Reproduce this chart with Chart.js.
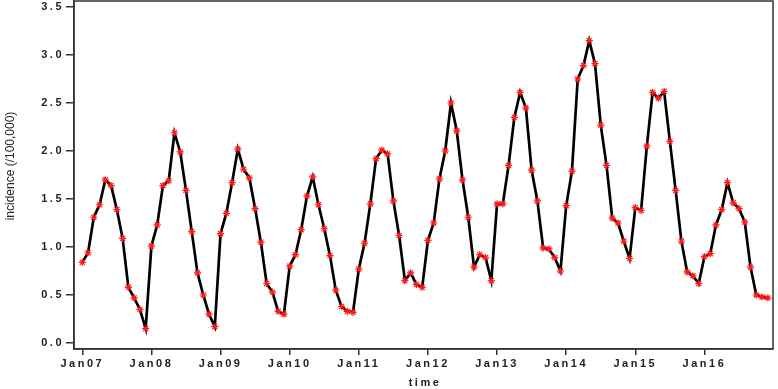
<!DOCTYPE html>
<html>
<head>
<meta charset="utf-8">
<script src="https://cdn.jsdelivr.net/npm/chart.js@4"></script>
<style>
  html, body { margin: 0; padding: 0; background: #fff; }
  #wrap { width: 778px; height: 389px; position: relative; }
</style>
</head>
<body>
<div id="wrap"><canvas id="c"></canvas></div>
<script>
const tickLabels = ['Jan07','Jan08','Jan09','Jan10','Jan11','Jan12','Jan13','Jan14','Jan15','Jan16'];
const yTickValues = [0, 0.5, 1.0, 1.5, 2.0, 2.5, 3.0, 3.5];
const y2007 = [0.84, 0.94, 1.31, 1.44, 1.70, 1.64, 1.39, 1.09, 0.58, 0.47, 0.35, 0.15];
const y2008 = [1.01, 1.23, 1.64, 1.69, 2.19, 1.99, 1.59, 1.16, 0.73, 0.50, 0.30, 0.17];
const y2009 = [1.14, 1.35, 1.67, 2.02, 1.81, 1.72, 1.40, 1.05, 0.62, 0.53, 0.33, 0.30];
const y2010 = [0.80, 0.92, 1.18, 1.53, 1.73, 1.44, 1.19, 0.91, 0.55, 0.38, 0.33, 0.32];
const y2011 = [0.77, 1.04, 1.45, 1.92, 2.01, 1.97, 1.48, 1.12, 0.65, 0.73, 0.61, 0.58];
const y2012 = [1.07, 1.25, 1.71, 2.00, 2.50, 2.21, 1.70, 1.31, 0.79, 0.92, 0.89, 0.65];
const y2013 = [1.45, 1.45, 1.85, 2.35, 2.61, 2.45, 1.80, 1.48, 0.99, 0.98, 0.89, 0.75];
const y2014 = [1.43, 1.79, 2.75, 2.89, 3.15, 2.91, 2.27, 1.85, 1.30, 1.25, 1.06, 0.88];
const y2015 = [1.41, 1.38, 2.05, 2.61, 2.55, 2.62, 2.10, 1.59, 1.06, 0.74, 0.70, 0.62];
const y2016 = [0.90, 0.93, 1.23, 1.39, 1.67, 1.46, 1.40, 1.26, 0.79, 0.50, 0.48, 0.47];
const incidence = [].concat(y2007, y2008, y2009, y2010, y2011, y2012, y2013, y2014, y2015, y2016);

const points = incidence.map((v, i) => ({ x: i, y: v }));

const framePlugin = {
  id: 'frame',
  beforeDraw(chart) {
    chart.ctx.letterSpacing = '2.5px';
  },
  beforeDatasetsDraw(chart) {
    chart.ctx.letterSpacing = '0px';
  },
  afterDraw(chart) {
    const ctx = chart.ctx;
    const a = chart.chartArea;
    ctx.save();
    ctx.letterSpacing = '0px';
    ctx.strokeStyle = '#333';
    ctx.lineWidth = 1.5;
    ctx.strokeRect(a.left, a.top, a.right - a.left, a.bottom - a.top);
    // y title
    ctx.fillStyle = '#222';
    ctx.font = '12px "Liberation Sans Narrow", "Arial Narrow", "Liberation Sans", sans-serif';
    ctx.textAlign = 'center';
    ctx.textBaseline = 'middle';
    ctx.translate(11, 166);
    ctx.rotate(-Math.PI / 2);
    ctx.fillText('incidence (/100,000)', 0, 0);
    ctx.restore();
    ctx.save();
    ctx.letterSpacing = '2.5px';
    ctx.fillStyle = '#222';
    ctx.font = 'bold 11px "Liberation Sans", Arial, sans-serif';
    ctx.textAlign = 'center';
    ctx.textBaseline = 'middle';
    ctx.fillText('time', 425, 383);
    ctx.restore();
  }
};

new Chart(document.getElementById('c'), {
  type: 'line',
  data: {
    datasets: [{
      data: points,
      borderColor: '#000',
      borderWidth: 2.7,
      tension: 0,
      pointStyle: 'star',
      pointRadius: 3.6,
      pointBorderColor: '#ff1a1a',
      pointBackgroundColor: '#ff1a1a',
      pointBorderWidth: 1.2
    }]
  },
  options: {
    responsive: true,
    maintainAspectRatio: false,
    animation: false,
    layout: { autoPadding: false, padding: { top: 1, right: 5, left: 0, bottom: 0 } },
    plugins: { legend: { display: false }, tooltip: { enabled: false } },
    scales: {
      x: {
        type: 'linear',
        min: -1.44,
        max: 119.9,
        afterBuildTicks(scale) {
          scale.ticks = tickLabels.map((_, i) => ({ value: i * 12 }));
        },
        afterFit(scale) {
          scale.height = 40;
          scale.paddingLeft = 0; scale.paddingRight = 0;
          scale.paddingTop = 0; scale.paddingBottom = 0;
        },
        grid: { drawOnChartArea: false, drawTicks: true, tickLength: 6, color: '#333', lineWidth: 1.5 },
        border: { display: true, color: '#333', width: 1.5 },
        ticks: {
          autoSkip: false,
          maxRotation: 0,
          padding: 2,
          color: '#222',
          font: { family: '"Liberation Sans", Arial, sans-serif', size: 11, weight: 'bold' },
          callback: (v) => tickLabels[Math.round(v / 12)]
        }
      },
      y: {
        type: 'linear',
        min: -0.0625,
        max: 3.5625,
        afterBuildTicks(scale) {
          scale.ticks = yTickValues.map(v => ({ value: v }));
        },
        afterFit(scale) {
          scale.width = 74;
          scale.paddingTop = 0; scale.paddingBottom = 0;
          scale.paddingLeft = 0; scale.paddingRight = 0;
        },
        grid: { drawOnChartArea: false, drawTicks: true, tickLength: 8, color: '#333', lineWidth: 1.5 },
        border: { display: true, color: '#333', width: 1.5 },
        ticks: {
          padding: 2,
          color: '#222',
          font: { family: '"Liberation Sans", Arial, sans-serif', size: 11, weight: 'bold' },
          callback: (v) => Number(v).toFixed(1)
        }
      }
    }
  },
  plugins: [framePlugin]
});
</script>
</body>
</html>
